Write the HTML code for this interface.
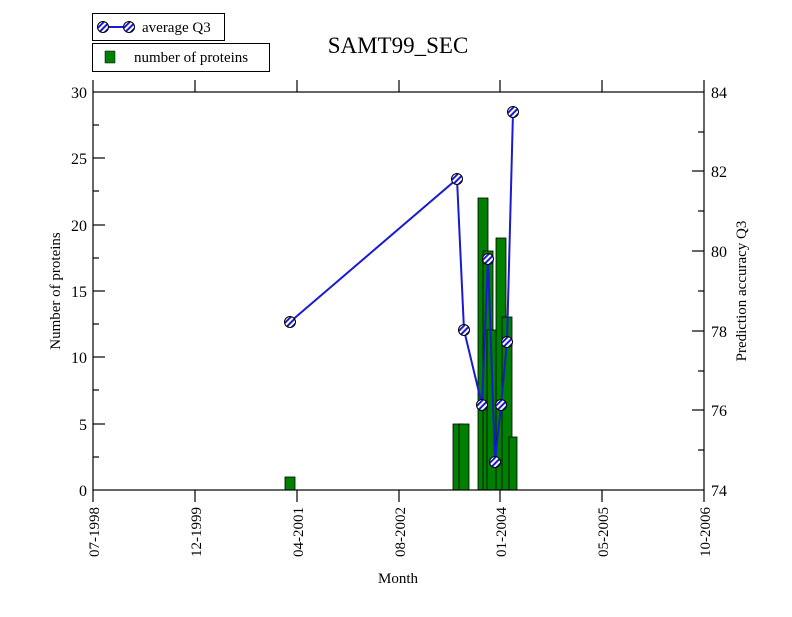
<!DOCTYPE html>
<html><head><meta charset="utf-8"><style>body{margin:0;background:#fff}</style></head><body>
<svg width="792" height="612" xmlns="http://www.w3.org/2000/svg" font-family="Liberation Serif, serif">
<defs>
<pattern id="st" patternUnits="userSpaceOnUse" width="4" height="4" patternTransform="rotate(-45)">
<rect width="4" height="4" fill="#fff"/><rect width="4" height="2" fill="#1a1ad0"/>
</pattern>
<g id="m"><circle r="5.5" fill="url(#st)" stroke="#000" stroke-width="1"/></g>
</defs>
<rect width="792" height="612" fill="#fff"/>
<!-- bars -->
<g fill="#008000" stroke="#000" stroke-width="0.8">
<rect x="285" y="477" width="10" height="13"/>
<rect x="453" y="424" width="10" height="66"/>
<rect x="459" y="424" width="10" height="66"/>
<rect x="478" y="198" width="10" height="292"/>
<rect x="483" y="251" width="10" height="239"/>
<rect x="487" y="330" width="10" height="160"/>
<rect x="496" y="238" width="10" height="252"/>
<rect x="502" y="317" width="10" height="173"/>
<rect x="509" y="437" width="8" height="53"/>
</g>
<!-- axes -->
<g stroke="#000" stroke-width="1.2" fill="none">
<rect x="93" y="92" width="611" height="398"/>
</g>
<g stroke="#000" stroke-width="1.2">
<line x1="93" y1="490" x2="93" y2="502"/><line x1="195" y1="490" x2="195" y2="502"/><line x1="297" y1="490" x2="297" y2="502"/><line x1="399" y1="490" x2="399" y2="502"/><line x1="500" y1="490" x2="500" y2="502"/><line x1="602" y1="490" x2="602" y2="502"/><line x1="704" y1="490" x2="704" y2="502"/>
<line x1="93" y1="80" x2="93" y2="92"/><line x1="195" y1="80" x2="195" y2="92"/><line x1="297" y1="80" x2="297" y2="92"/><line x1="399" y1="80" x2="399" y2="92"/><line x1="500" y1="80" x2="500" y2="92"/><line x1="602" y1="80" x2="602" y2="92"/><line x1="704" y1="80" x2="704" y2="92"/>
<line x1="93" y1="424" x2="105" y2="424"/><line x1="93" y1="357" x2="105" y2="357"/><line x1="93" y1="291" x2="105" y2="291"/><line x1="93" y1="225" x2="105" y2="225"/><line x1="93" y1="158" x2="105" y2="158"/>
<line x1="93" y1="457" x2="99" y2="457"/><line x1="93" y1="390" x2="99" y2="390"/><line x1="93" y1="324" x2="99" y2="324"/><line x1="93" y1="258" x2="99" y2="258"/><line x1="93" y1="191" x2="99" y2="191"/><line x1="93" y1="125" x2="99" y2="125"/>
<line x1="692" y1="410" x2="704" y2="410"/><line x1="692" y1="331" x2="704" y2="331"/><line x1="692" y1="251" x2="704" y2="251"/><line x1="692" y1="171" x2="704" y2="171"/>
<line x1="698" y1="450" x2="704" y2="450"/><line x1="698" y1="371" x2="704" y2="371"/><line x1="698" y1="291" x2="704" y2="291"/><line x1="698" y1="211" x2="704" y2="211"/><line x1="698" y1="132" x2="704" y2="132"/>
</g>
<g font-size="16" text-anchor="end">
<text x="87" y="496">0</text><text x="87" y="430">5</text><text x="87" y="363">10</text><text x="87" y="297">15</text><text x="87" y="231">20</text><text x="87" y="164">25</text><text x="87" y="98">30</text>
</g>
<g font-size="16">
<text x="711" y="496">74</text><text x="711" y="416">76</text><text x="711" y="337">78</text><text x="711" y="257">80</text><text x="711" y="177">82</text><text x="711" y="98">84</text>
</g>
<g font-size="15" text-anchor="end">
<text transform="translate(99,507) rotate(-90)">07-1998</text>
<text transform="translate(201,507) rotate(-90)">12-1999</text>
<text transform="translate(303,507) rotate(-90)">04-2001</text>
<text transform="translate(405,507) rotate(-90)">08-2002</text>
<text transform="translate(506,507) rotate(-90)">01-2004</text>
<text transform="translate(608,507) rotate(-90)">05-2005</text>
<text transform="translate(710,507) rotate(-90)">10-2006</text>
</g>
<text x="398" y="583" font-size="15" text-anchor="middle">Month</text>
<text transform="translate(60,291) rotate(-90)" font-size="15" text-anchor="middle">Number of proteins</text>
<text transform="translate(746,291) rotate(-90)" font-size="15" text-anchor="middle">Prediction accuracy Q3</text>
<text x="398" y="53" font-size="23" text-anchor="middle">SAMT99_SEC</text>
<!-- line -->
<polyline fill="none" stroke="#1a1ad0" stroke-width="2" points="290,322 457,179 464,330 482,405 488,259 495,462 501,405 507,342 513,112"/>
<g>
<use href="#m" x="290" y="322"/><use href="#m" x="457" y="179"/><use href="#m" x="464" y="330"/><use href="#m" x="482" y="405"/><use href="#m" x="488" y="259"/><use href="#m" x="495" y="462"/><use href="#m" x="501" y="405"/><use href="#m" x="507" y="342"/><use href="#m" x="513" y="112"/>
</g>
<!-- legend -->
<rect x="92.5" y="13.5" width="132" height="27" fill="#fff" stroke="#000"/>
<line x1="103" y1="27" x2="129" y2="27" stroke="#1a1ad0" stroke-width="2"/>
<use href="#m" x="103" y="27"/><use href="#m" x="129" y="27"/>
<text x="142" y="32" font-size="15">average Q3</text>
<rect x="92.5" y="43.5" width="177" height="28" fill="#fff" stroke="#000"/>
<rect x="105" y="51" width="10" height="12" fill="#008000" stroke="#000" stroke-width="0.5"/>
<text x="134" y="62" font-size="15">number of proteins</text>
</svg>
</body></html>
